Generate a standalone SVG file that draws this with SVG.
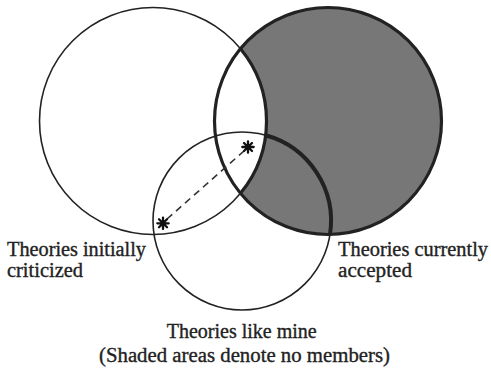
<svg xmlns="http://www.w3.org/2000/svg" width="491" height="370" viewBox="0 0 491 370">
<style>
.thin{fill:none;stroke:#222;stroke-width:1.6}
.thick{fill:none;stroke:#222;stroke-width:3.2}
.lbl{font-family:"Liberation Serif","Times New Roman",serif;font-size:20px;fill:#222;stroke:#222;stroke-width:0.35}
.star{stroke:#111;stroke-width:2.3;stroke-linecap:round;fill:none}
</style>
<rect width="491" height="370" fill="#fff"/>
<g id="shade">
<path d="M240.5 48.7 A113.5 113.5 0 1 1 240.5 193.3 A113.5 113.5 0 0 0 240.5 48.7 Z" fill="#777"/>
</g>
<g id="criticized">
<circle class="thin" cx="153" cy="121" r="113.5"/>
<text class="lbl" x="7" y="256" textLength="139" lengthAdjust="spacingAndGlyphs">Theories initially</text>
<text class="lbl" x="7" y="277" textLength="76" lengthAdjust="spacingAndGlyphs">criticized</text>
</g>
<g id="accepted">
<circle class="thick" cx="328" cy="121" r="113.5"/>
<path class="thick" d="M240.5 48.7 A113.5 113.5 0 0 1 240.5 193.3"/>
<text class="lbl" x="338" y="256" textLength="150" lengthAdjust="spacingAndGlyphs">Theories currently</text>
<text class="lbl" x="338" y="277" textLength="74" lengthAdjust="spacingAndGlyphs">accepted</text>
</g>
<g id="likemine">
<circle class="thin" cx="242" cy="221" r="89"/>
<path d="M265.6 135.2 A89 89 0 0 1 330 234.5" fill="none" stroke="#222" stroke-width="4"/>
<text class="lbl" x="241.7" y="338" text-anchor="middle" textLength="150" lengthAdjust="spacingAndGlyphs">Theories like mine</text>
</g>
<g id="caption">
<text class="lbl" x="244.5" y="362" text-anchor="middle" textLength="291" lengthAdjust="spacingAndGlyphs">(Shaded areas denote no members)</text>
</g>
<g id="connectors">
<line x1="167" y1="219" x2="244" y2="151" stroke="#333" stroke-width="1.6" stroke-dasharray="7 5"/>
</g>
<g id="star1">
<path class="star" d="M157.3 223.3h11.4M163 217.6v11.4M159 219.3l8 8M159 227.3l8 -8"/>
<circle cx="163" cy="223.3" r="2.4" fill="#111"/>
</g>
<g id="star2">
<path class="star" d="M242.3 147h11.4M248 141.3v11.4M244 143l8 8M244 151l8 -8"/>
<circle cx="248" cy="147" r="2.4" fill="#111"/>
</g>
</svg>
